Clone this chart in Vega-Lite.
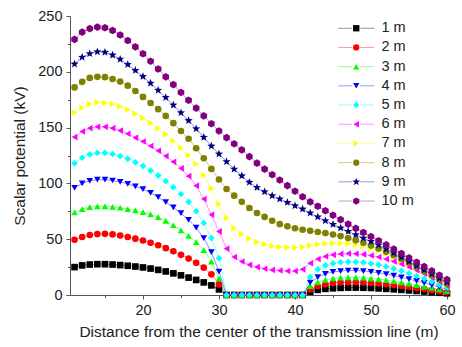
{
"$schema": "https://vega.github.io/schema/vega-lite/v6.json",
"width": 377, "height": 279,
"autosize": {"type": "none"},
"padding": {"left": 70, "top": 16, "right": 15, "bottom": 52},
"config": {"view": {"stroke": null}, "font": "Liberation Sans",
  "legend": {"title": null, "orient": "none", "legendX": 279, "legendY": 5, "padding": 0,
         "labelFontSize": 14.5, "labelColor": "#222", "symbolSize": 40, "rowPadding": 4.2, "labelOffset": 18, "symbolOpacity": 1}},
"data": {"values": [
{"s":"1 m","x":11,"v":25},{"s":"1 m","x":12,"v":26.5},{"s":"1 m","x":13,"v":27.3},{"s":"1 m","x":14,"v":27.6},{"s":"1 m","x":15,"v":27.6},{"s":"1 m","x":16,"v":27.3},{"s":"1 m","x":17,"v":26.8},{"s":"1 m","x":18,"v":26.2},{"s":"1 m","x":19,"v":25.5},{"s":"1 m","x":20,"v":24.7},{"s":"1 m","x":21,"v":23.7},{"s":"1 m","x":22,"v":22.5},{"s":"1 m","x":23,"v":21.1},{"s":"1 m","x":24,"v":19.4},{"s":"1 m","x":25,"v":17.6},{"s":"1 m","x":26,"v":15.6},{"s":"1 m","x":27,"v":13.5},{"s":"1 m","x":28,"v":11.3},{"s":"1 m","x":29,"v":8.6},{"s":"1 m","x":30,"v":5},{"s":"1 m","x":31,"v":0},{"s":"1 m","x":32,"v":0},{"s":"1 m","x":33,"v":0},{"s":"1 m","x":34,"v":0},{"s":"1 m","x":35,"v":0},{"s":"1 m","x":36,"v":0},{"s":"1 m","x":37,"v":0},{"s":"1 m","x":38,"v":0},{"s":"1 m","x":39,"v":0},{"s":"1 m","x":40,"v":0},{"s":"1 m","x":41,"v":0},{"s":"1 m","x":42,"v":3},{"s":"1 m","x":43,"v":4.6},{"s":"1 m","x":44,"v":5.5},{"s":"1 m","x":45,"v":6},{"s":"1 m","x":46,"v":6.4},{"s":"1 m","x":47,"v":6.6},{"s":"1 m","x":48,"v":6.6},{"s":"1 m","x":49,"v":6.5},{"s":"1 m","x":50,"v":6.3},{"s":"1 m","x":51,"v":5.9},{"s":"1 m","x":52,"v":5.5},{"s":"1 m","x":53,"v":5.1},{"s":"1 m","x":54,"v":4.6},{"s":"1 m","x":55,"v":4.1},{"s":"1 m","x":56,"v":3.6},{"s":"1 m","x":57,"v":3.1},{"s":"1 m","x":58,"v":2.5},{"s":"1 m","x":59,"v":2},{"s":"1 m","x":60,"v":1.5},
{"s":"2 m","x":11,"v":49.5},{"s":"2 m","x":12,"v":52},{"s":"2 m","x":13,"v":53.8},{"s":"2 m","x":14,"v":54.6},{"s":"2 m","x":15,"v":54.8},{"s":"2 m","x":16,"v":54.3},{"s":"2 m","x":17,"v":53.3},{"s":"2 m","x":18,"v":52},{"s":"2 m","x":19,"v":50.5},{"s":"2 m","x":20,"v":48.8},{"s":"2 m","x":21,"v":46.8},{"s":"2 m","x":22,"v":44.6},{"s":"2 m","x":23,"v":42},{"s":"2 m","x":24,"v":39.2},{"s":"2 m","x":25,"v":36},{"s":"2 m","x":26,"v":32.6},{"s":"2 m","x":27,"v":28.8},{"s":"2 m","x":28,"v":24.5},{"s":"2 m","x":29,"v":18.5},{"s":"2 m","x":30,"v":9.5},{"s":"2 m","x":31,"v":0},{"s":"2 m","x":32,"v":0},{"s":"2 m","x":33,"v":0},{"s":"2 m","x":34,"v":0},{"s":"2 m","x":35,"v":0},{"s":"2 m","x":36,"v":0},{"s":"2 m","x":37,"v":0},{"s":"2 m","x":38,"v":0},{"s":"2 m","x":39,"v":0},{"s":"2 m","x":40,"v":0},{"s":"2 m","x":41,"v":0},{"s":"2 m","x":42,"v":5},{"s":"2 m","x":43,"v":8},{"s":"2 m","x":44,"v":9.7},{"s":"2 m","x":45,"v":10.7},{"s":"2 m","x":46,"v":11.2},{"s":"2 m","x":47,"v":11.4},{"s":"2 m","x":48,"v":11.4},{"s":"2 m","x":49,"v":11.2},{"s":"2 m","x":50,"v":10.8},{"s":"2 m","x":51,"v":10.3},{"s":"2 m","x":52,"v":9.6},{"s":"2 m","x":53,"v":8.9},{"s":"2 m","x":54,"v":8.1},{"s":"2 m","x":55,"v":7.2},{"s":"2 m","x":56,"v":6.3},{"s":"2 m","x":57,"v":5.3},{"s":"2 m","x":58,"v":4.3},{"s":"2 m","x":59,"v":3.4},{"s":"2 m","x":60,"v":2.5},
{"s":"3 m","x":11,"v":74},{"s":"3 m","x":12,"v":77},{"s":"3 m","x":13,"v":78.8},{"s":"3 m","x":14,"v":79.5},{"s":"3 m","x":15,"v":79.4},{"s":"3 m","x":16,"v":79},{"s":"3 m","x":17,"v":78.2},{"s":"3 m","x":18,"v":77},{"s":"3 m","x":19,"v":75.8},{"s":"3 m","x":20,"v":74.3},{"s":"3 m","x":21,"v":72.3},{"s":"3 m","x":22,"v":69.8},{"s":"3 m","x":23,"v":66.5},{"s":"3 m","x":24,"v":62.5},{"s":"3 m","x":25,"v":58},{"s":"3 m","x":26,"v":53},{"s":"3 m","x":27,"v":47.3},{"s":"3 m","x":28,"v":40.3},{"s":"3 m","x":29,"v":30},{"s":"3 m","x":30,"v":15},{"s":"3 m","x":31,"v":0},{"s":"3 m","x":32,"v":0},{"s":"3 m","x":33,"v":0},{"s":"3 m","x":34,"v":0},{"s":"3 m","x":35,"v":0},{"s":"3 m","x":36,"v":0},{"s":"3 m","x":37,"v":0},{"s":"3 m","x":38,"v":0},{"s":"3 m","x":39,"v":0},{"s":"3 m","x":40,"v":0},{"s":"3 m","x":41,"v":0},{"s":"3 m","x":42,"v":8},{"s":"3 m","x":43,"v":11.5},{"s":"3 m","x":44,"v":13.5},{"s":"3 m","x":45,"v":14.8},{"s":"3 m","x":46,"v":15.5},{"s":"3 m","x":47,"v":15.8},{"s":"3 m","x":48,"v":15.8},{"s":"3 m","x":49,"v":15.5},{"s":"3 m","x":50,"v":15},{"s":"3 m","x":51,"v":14.3},{"s":"3 m","x":52,"v":13.4},{"s":"3 m","x":53,"v":12.4},{"s":"3 m","x":54,"v":11.3},{"s":"3 m","x":55,"v":10.1},{"s":"3 m","x":56,"v":8.9},{"s":"3 m","x":57,"v":7.6},{"s":"3 m","x":58,"v":6.3},{"s":"3 m","x":59,"v":5},{"s":"3 m","x":60,"v":3.6},
{"s":"4 m","x":11,"v":96},{"s":"4 m","x":12,"v":100},{"s":"4 m","x":13,"v":102.3},{"s":"4 m","x":14,"v":103.3},{"s":"4 m","x":15,"v":103.3},{"s":"4 m","x":16,"v":102.6},{"s":"4 m","x":17,"v":101.3},{"s":"4 m","x":18,"v":99.5},{"s":"4 m","x":19,"v":97.3},{"s":"4 m","x":20,"v":94.8},{"s":"4 m","x":21,"v":91.5},{"s":"4 m","x":22,"v":87.7},{"s":"4 m","x":23,"v":83.3},{"s":"4 m","x":24,"v":78.5},{"s":"4 m","x":25,"v":73.3},{"s":"4 m","x":26,"v":67.3},{"s":"4 m","x":27,"v":60.3},{"s":"4 m","x":28,"v":51},{"s":"4 m","x":29,"v":38.5},{"s":"4 m","x":30,"v":21},{"s":"4 m","x":31,"v":0},{"s":"4 m","x":32,"v":0},{"s":"4 m","x":33,"v":0},{"s":"4 m","x":34,"v":0},{"s":"4 m","x":35,"v":0},{"s":"4 m","x":36,"v":0},{"s":"4 m","x":37,"v":0},{"s":"4 m","x":38,"v":0},{"s":"4 m","x":39,"v":0},{"s":"4 m","x":40,"v":0},{"s":"4 m","x":41,"v":0},{"s":"4 m","x":42,"v":11},{"s":"4 m","x":43,"v":16},{"s":"4 m","x":44,"v":19},{"s":"4 m","x":45,"v":20.7},{"s":"4 m","x":46,"v":21.5},{"s":"4 m","x":47,"v":21.9},{"s":"4 m","x":48,"v":21.9},{"s":"4 m","x":49,"v":21.5},{"s":"4 m","x":50,"v":20.8},{"s":"4 m","x":51,"v":19.9},{"s":"4 m","x":52,"v":18.7},{"s":"4 m","x":53,"v":17.4},{"s":"4 m","x":54,"v":15.9},{"s":"4 m","x":55,"v":14.3},{"s":"4 m","x":56,"v":12.6},{"s":"4 m","x":57,"v":10.8},{"s":"4 m","x":58,"v":8.9},{"s":"4 m","x":59,"v":7},{"s":"4 m","x":60,"v":5},
{"s":"5 m","x":11,"v":118},{"s":"5 m","x":12,"v":123},{"s":"5 m","x":13,"v":126},{"s":"5 m","x":14,"v":127.3},{"s":"5 m","x":15,"v":127.3},{"s":"5 m","x":16,"v":126.3},{"s":"5 m","x":17,"v":124.5},{"s":"5 m","x":18,"v":122},{"s":"5 m","x":19,"v":119},{"s":"5 m","x":20,"v":115.5},{"s":"5 m","x":21,"v":111.5},{"s":"5 m","x":22,"v":107},{"s":"5 m","x":23,"v":102},{"s":"5 m","x":24,"v":96.5},{"s":"5 m","x":25,"v":90.5},{"s":"5 m","x":26,"v":83.5},{"s":"5 m","x":27,"v":75},{"s":"5 m","x":28,"v":64.5},{"s":"5 m","x":29,"v":51},{"s":"5 m","x":30,"v":33},{"s":"5 m","x":31,"v":0},{"s":"5 m","x":32,"v":0},{"s":"5 m","x":33,"v":0},{"s":"5 m","x":34,"v":0},{"s":"5 m","x":35,"v":0},{"s":"5 m","x":36,"v":0},{"s":"5 m","x":37,"v":0},{"s":"5 m","x":38,"v":0},{"s":"5 m","x":39,"v":0},{"s":"5 m","x":40,"v":0},{"s":"5 m","x":41,"v":0},{"s":"5 m","x":42,"v":16},{"s":"5 m","x":43,"v":23},{"s":"5 m","x":44,"v":26.5},{"s":"5 m","x":45,"v":28.3},{"s":"5 m","x":46,"v":29.3},{"s":"5 m","x":47,"v":29.7},{"s":"5 m","x":48,"v":29.6},{"s":"5 m","x":49,"v":29.1},{"s":"5 m","x":50,"v":28.2},{"s":"5 m","x":51,"v":27},{"s":"5 m","x":52,"v":25.4},{"s":"5 m","x":53,"v":23.6},{"s":"5 m","x":54,"v":21.6},{"s":"5 m","x":55,"v":19.4},{"s":"5 m","x":56,"v":17},{"s":"5 m","x":57,"v":14.5},{"s":"5 m","x":58,"v":11.9},{"s":"5 m","x":59,"v":9.2},{"s":"5 m","x":60,"v":6.5},
{"s":"6 m","x":11,"v":141.5},{"s":"6 m","x":12,"v":146.5},{"s":"6 m","x":13,"v":149.5},{"s":"6 m","x":14,"v":150.7},{"s":"6 m","x":15,"v":150.7},{"s":"6 m","x":16,"v":149.5},{"s":"6 m","x":17,"v":147.3},{"s":"6 m","x":18,"v":144.5},{"s":"6 m","x":19,"v":141},{"s":"6 m","x":20,"v":137.5},{"s":"6 m","x":21,"v":133.5},{"s":"6 m","x":22,"v":129.3},{"s":"6 m","x":23,"v":124.5},{"s":"6 m","x":24,"v":119.3},{"s":"6 m","x":25,"v":113.5},{"s":"6 m","x":26,"v":106.5},{"s":"6 m","x":27,"v":98},{"s":"6 m","x":28,"v":86},{"s":"6 m","x":29,"v":72},{"s":"6 m","x":30,"v":57},{"s":"6 m","x":31,"v":41.5},{"s":"6 m","x":32,"v":34},{"s":"6 m","x":33,"v":30},{"s":"6 m","x":34,"v":27},{"s":"6 m","x":35,"v":25},{"s":"6 m","x":36,"v":23.5},{"s":"6 m","x":37,"v":22.5},{"s":"6 m","x":38,"v":22},{"s":"6 m","x":39,"v":21.5},{"s":"6 m","x":40,"v":21.5},{"s":"6 m","x":41,"v":23},{"s":"6 m","x":42,"v":28.5},{"s":"6 m","x":43,"v":32.3},{"s":"6 m","x":44,"v":34.6},{"s":"6 m","x":45,"v":36},{"s":"6 m","x":46,"v":36.8},{"s":"6 m","x":47,"v":37.1},{"s":"6 m","x":48,"v":37},{"s":"6 m","x":49,"v":36.4},{"s":"6 m","x":50,"v":35.4},{"s":"6 m","x":51,"v":34},{"s":"6 m","x":52,"v":32.2},{"s":"6 m","x":53,"v":30.1},{"s":"6 m","x":54,"v":27.7},{"s":"6 m","x":55,"v":25},{"s":"6 m","x":56,"v":22.1},{"s":"6 m","x":57,"v":19},{"s":"6 m","x":58,"v":15.6},{"s":"6 m","x":59,"v":12},{"s":"6 m","x":60,"v":8.2},
{"s":"7 m","x":11,"v":163.5},{"s":"7 m","x":12,"v":168},{"s":"7 m","x":13,"v":171.2},{"s":"7 m","x":14,"v":172.6},{"s":"7 m","x":15,"v":172.3},{"s":"7 m","x":16,"v":171},{"s":"7 m","x":17,"v":168.8},{"s":"7 m","x":18,"v":166},{"s":"7 m","x":19,"v":162.5},{"s":"7 m","x":20,"v":158.6},{"s":"7 m","x":21,"v":154.2},{"s":"7 m","x":22,"v":149.3},{"s":"7 m","x":23,"v":144},{"s":"7 m","x":24,"v":138.2},{"s":"7 m","x":25,"v":132},{"s":"7 m","x":26,"v":125.3},{"s":"7 m","x":27,"v":117.5},{"s":"7 m","x":28,"v":107.5},{"s":"7 m","x":29,"v":95.5},{"s":"7 m","x":30,"v":81.5},{"s":"7 m","x":31,"v":69},{"s":"7 m","x":32,"v":60},{"s":"7 m","x":33,"v":54.5},{"s":"7 m","x":34,"v":50.5},{"s":"7 m","x":35,"v":47.5},{"s":"7 m","x":36,"v":45.5},{"s":"7 m","x":37,"v":44},{"s":"7 m","x":38,"v":43},{"s":"7 m","x":39,"v":42.5},{"s":"7 m","x":40,"v":42.5},{"s":"7 m","x":41,"v":43},{"s":"7 m","x":42,"v":44.2},{"s":"7 m","x":43,"v":45.3},{"s":"7 m","x":44,"v":46},{"s":"7 m","x":45,"v":46.4},{"s":"7 m","x":46,"v":46.4},{"s":"7 m","x":47,"v":46},{"s":"7 m","x":48,"v":45},{"s":"7 m","x":49,"v":43.5},{"s":"7 m","x":50,"v":41.5},{"s":"7 m","x":51,"v":39.3},{"s":"7 m","x":52,"v":36.8},{"s":"7 m","x":53,"v":34},{"s":"7 m","x":54,"v":31},{"s":"7 m","x":55,"v":27.8},{"s":"7 m","x":56,"v":24.4},{"s":"7 m","x":57,"v":20.8},{"s":"7 m","x":58,"v":17},{"s":"7 m","x":59,"v":13.2},{"s":"7 m","x":60,"v":9.4},
{"s":"8 m","x":11,"v":186},{"s":"8 m","x":12,"v":191},{"s":"8 m","x":13,"v":194.5},{"s":"8 m","x":14,"v":195.5},{"s":"8 m","x":15,"v":195.2},{"s":"8 m","x":16,"v":193.6},{"s":"8 m","x":17,"v":191.2},{"s":"8 m","x":18,"v":187.6},{"s":"8 m","x":19,"v":182.8},{"s":"8 m","x":20,"v":177.5},{"s":"8 m","x":21,"v":172},{"s":"8 m","x":22,"v":166.5},{"s":"8 m","x":23,"v":160.5},{"s":"8 m","x":24,"v":154},{"s":"8 m","x":25,"v":147},{"s":"8 m","x":26,"v":140},{"s":"8 m","x":27,"v":131.5},{"s":"8 m","x":28,"v":122.5},{"s":"8 m","x":29,"v":113},{"s":"8 m","x":30,"v":103.5},{"s":"8 m","x":31,"v":95},{"s":"8 m","x":32,"v":89},{"s":"8 m","x":33,"v":83.5},{"s":"8 m","x":34,"v":78},{"s":"8 m","x":35,"v":73.5},{"s":"8 m","x":36,"v":70},{"s":"8 m","x":37,"v":66.5},{"s":"8 m","x":38,"v":63.5},{"s":"8 m","x":39,"v":61.5},{"s":"8 m","x":40,"v":59.8},{"s":"8 m","x":41,"v":58.5},{"s":"8 m","x":42,"v":57.5},{"s":"8 m","x":43,"v":56.5},{"s":"8 m","x":44,"v":55.5},{"s":"8 m","x":45,"v":54.2},{"s":"8 m","x":46,"v":52.8},{"s":"8 m","x":47,"v":51},{"s":"8 m","x":48,"v":49},{"s":"8 m","x":49,"v":46.8},{"s":"8 m","x":50,"v":44.3},{"s":"8 m","x":51,"v":41.6},{"s":"8 m","x":52,"v":38.7},{"s":"8 m","x":53,"v":35.6},{"s":"8 m","x":54,"v":32.3},{"s":"8 m","x":55,"v":28.8},{"s":"8 m","x":56,"v":25.1},{"s":"8 m","x":57,"v":21.3},{"s":"8 m","x":58,"v":17.6},{"s":"8 m","x":59,"v":13.8},{"s":"8 m","x":60,"v":10},
{"s":"9 m","x":11,"v":207},{"s":"9 m","x":12,"v":213},{"s":"9 m","x":13,"v":216.3},{"s":"9 m","x":14,"v":218},{"s":"9 m","x":15,"v":217.5},{"s":"9 m","x":16,"v":215},{"s":"9 m","x":17,"v":211.3},{"s":"9 m","x":18,"v":206.5},{"s":"9 m","x":19,"v":201.3},{"s":"9 m","x":20,"v":195.8},{"s":"9 m","x":21,"v":189.8},{"s":"9 m","x":22,"v":183.5},{"s":"9 m","x":23,"v":177},{"s":"9 m","x":24,"v":170.2},{"s":"9 m","x":25,"v":163.3},{"s":"9 m","x":26,"v":156.3},{"s":"9 m","x":27,"v":149},{"s":"9 m","x":28,"v":141.3},{"s":"9 m","x":29,"v":133.5},{"s":"9 m","x":30,"v":126.3},{"s":"9 m","x":31,"v":119.5},{"s":"9 m","x":32,"v":112.8},{"s":"9 m","x":33,"v":106.8},{"s":"9 m","x":34,"v":101},{"s":"9 m","x":35,"v":96.3},{"s":"9 m","x":36,"v":92.5},{"s":"9 m","x":37,"v":89},{"s":"9 m","x":38,"v":86},{"s":"9 m","x":39,"v":83},{"s":"9 m","x":40,"v":80},{"s":"9 m","x":41,"v":77},{"s":"9 m","x":42,"v":73.5},{"s":"9 m","x":43,"v":70},{"s":"9 m","x":44,"v":66.5},{"s":"9 m","x":45,"v":63.3},{"s":"9 m","x":46,"v":60},{"s":"9 m","x":47,"v":57},{"s":"9 m","x":48,"v":54},{"s":"9 m","x":49,"v":51},{"s":"9 m","x":50,"v":48},{"s":"9 m","x":51,"v":44.8},{"s":"9 m","x":52,"v":41.3},{"s":"9 m","x":53,"v":37.6},{"s":"9 m","x":54,"v":33.8},{"s":"9 m","x":55,"v":30},{"s":"9 m","x":56,"v":26.2},{"s":"9 m","x":57,"v":22.5},{"s":"9 m","x":58,"v":18.8},{"s":"9 m","x":59,"v":15.1},{"s":"9 m","x":60,"v":11.5},
{"s":"10 m","x":11,"v":229},{"s":"10 m","x":12,"v":235.5},{"s":"10 m","x":13,"v":238.7},{"s":"10 m","x":14,"v":240},{"s":"10 m","x":15,"v":239.5},{"s":"10 m","x":16,"v":237},{"s":"10 m","x":17,"v":233},{"s":"10 m","x":18,"v":228},{"s":"10 m","x":19,"v":222.3},{"s":"10 m","x":20,"v":216.2},{"s":"10 m","x":21,"v":209.5},{"s":"10 m","x":22,"v":202.5},{"s":"10 m","x":23,"v":195.5},{"s":"10 m","x":24,"v":188.5},{"s":"10 m","x":25,"v":181.5},{"s":"10 m","x":26,"v":174.5},{"s":"10 m","x":27,"v":167.5},{"s":"10 m","x":28,"v":160.5},{"s":"10 m","x":29,"v":153.5},{"s":"10 m","x":30,"v":147},{"s":"10 m","x":31,"v":141},{"s":"10 m","x":32,"v":135.5},{"s":"10 m","x":33,"v":130},{"s":"10 m","x":34,"v":124},{"s":"10 m","x":35,"v":118.2},{"s":"10 m","x":36,"v":112.8},{"s":"10 m","x":37,"v":107.8},{"s":"10 m","x":38,"v":103},{"s":"10 m","x":39,"v":98},{"s":"10 m","x":40,"v":93},{"s":"10 m","x":41,"v":88},{"s":"10 m","x":42,"v":83.5},{"s":"10 m","x":43,"v":79.5},{"s":"10 m","x":44,"v":75.5},{"s":"10 m","x":45,"v":71.5},{"s":"10 m","x":46,"v":67.5},{"s":"10 m","x":47,"v":63.5},{"s":"10 m","x":48,"v":59.7},{"s":"10 m","x":49,"v":56},{"s":"10 m","x":50,"v":52.3},{"s":"10 m","x":51,"v":48.6},{"s":"10 m","x":52,"v":44.9},{"s":"10 m","x":53,"v":41.1},{"s":"10 m","x":54,"v":37.2},{"s":"10 m","x":55,"v":33.3},{"s":"10 m","x":56,"v":29.4},{"s":"10 m","x":57,"v":25.5},{"s":"10 m","x":58,"v":21.6},{"s":"10 m","x":59,"v":17.7},{"s":"10 m","x":60,"v":13.8}
]},
"encoding": {
  "x": {"field": "x", "type": "quantitative",
    "scale": {"domain": [10.4, 60], "nice": false, "zero": false},
    "axis": {"title": "Distance from the center of the transmission line (m)",
      "values": [15,20,25,30,35,40,45,50,55,60],
      "labelExpr": "datum.value % 10 === 0 ? datum.label : ''",
      "tickSize": {"condition": {"test": "datum.value % 10 === 0", "value": 4}, "value": 2.5},
      "grid": false, "domainColor": "#555", "tickColor": "#555",
      "labelFontSize": 14.5, "titleFontSize": 15.5, "titleFontWeight": "normal",
      "labelColor": "#222", "titleColor": "#222", "labelPadding": 4, "titlePadding": 8,
      "labelFlush": false}},
  "y": {"field": "v", "type": "quantitative",
    "scale": {"domain": [0, 250], "nice": false},
    "axis": {"title": "Scalar potential (kV)",
      "values": [0,25,50,75,100,125,150,175,200,225,250],
      "labelExpr": "datum.value % 50 === 0 ? datum.label : ''",
      "tickSize": {"condition": {"test": "datum.value % 50 === 0", "value": 4}, "value": 2.5},
      "grid": false, "domainColor": "#555", "tickColor": "#555",
      "labelFontSize": 14.5, "titleFontSize": 15.5, "titleFontWeight": "normal",
      "labelColor": "#222", "titleColor": "#222", "labelPadding": 4, "titlePadding": 10,
      "labelFlush": false}}
},
"layer": [
  {"mark": {"type": "line", "strokeWidth": 1, "opacity": 0.45},
   "encoding": {
     "stroke": {"field": "s", "type": "nominal",
       "scale": {"domain": ["10 m","9 m","8 m","7 m","6 m","5 m","4 m","3 m","2 m","1 m"],
                 "range": ["#800080","#000080","#808000","#ffff00","#ff00ff","#00ffff","#0000ff","#00ff00","#ff0000","#000000"]},
       "legend": {"values": ["1 m","2 m","3 m","4 m","5 m","6 m","7 m","8 m","9 m","10 m"],
         "symbolType": "M-5.7,0L-1.3,0M1.3,0L5.7,0", "symbolStrokeWidth": 1, "symbolOpacity": 0.4,
         "symbolFillColor": "transparent", "labelOpacity": 0}},
     "order": {"field": "x", "type": "quantitative"}}},
  {"mark": {"type": "point", "filled": true, "size": 44, "opacity": 1},
   "encoding": {
     "color": {"field": "s", "type": "nominal",
       "scale": {"domain": ["1 m","2 m","3 m","4 m","5 m","6 m","7 m","8 m","9 m","10 m"],
                 "range": ["#000000","#ff0000","#00ff00","#0000ff","#00ffff","#ff00ff","#ffff00","#808000","#000080","#800080"]}},
     "shape": {"field": "s", "type": "nominal",
       "scale": {"domain": ["1 m","2 m","3 m","4 m","5 m","6 m","7 m","8 m","9 m","10 m"],
                 "range": ["square","circle","triangle-up","triangle-down","diamond","triangle-left","triangle-right","circle",
                           "M0,-1.3L0.32,-0.44L1.24,-0.4L0.52,0.17L0.76,1.05L0,0.55L-0.76,1.05L-0.52,0.17L-1.24,-0.4L-0.32,-0.44Z",
                           "M0,-1.15L1,-0.575L1,0.575L0,1.15L-1,0.575L-1,-0.575Z"]}}}}
]
}
